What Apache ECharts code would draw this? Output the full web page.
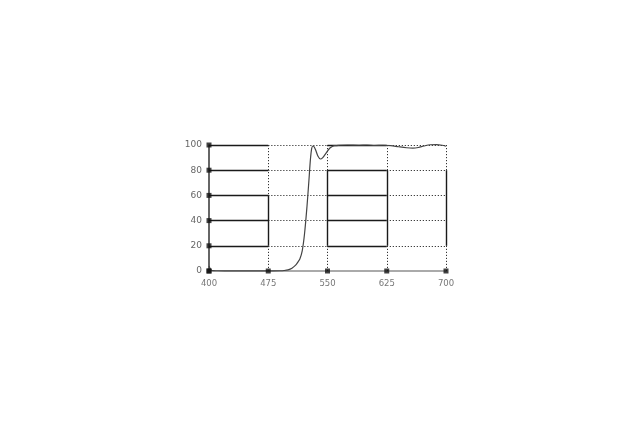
<!DOCTYPE html>
<html>
<head>
<meta charset="utf-8">
<script src="https://cdn.jsdelivr.net/npm/echarts@6/dist/echarts.min.js"></script>
<style>html,body{margin:0;padding:0;background:#fff;}#c{width:640px;height:427px;}</style>
</head>
<body>
<div id="c"></div>
<script>
var wavelength = [400,401,402,403,405,410,420,440,460,480,490,495,500,505,510,513,515,518,521,524,526.5,528.3,530,531.6,533,535,538,541,544,548.6,552.7,556,559,565,575,590,600,610,620,630,640,650,658,665,672,680,688,695,700];
var transmission = [4,2.5,1.2,0.6,0.3,0.2,0.1,0.1,0.1,0.1,0.2,0.4,0.9,2.2,4.8,7.5,9.5,16,30,51,72,88,97.4,99.2,98.6,96,91,88.9,90,94,97.4,98.8,99.5,99.8,100,99.8,100,99.6,99.8,99.5,98.6,97.8,97.5,98,99.2,100.2,100.3,99.8,99];
var xTicks = [400,475,550,625,700];
var yTicks = [0,20,40,60,80,100];
var hLevels = [20,40,60,80,100];
var vLevels = [475,550,625,700];

var solidStyle = {color:'#1a1a1a', width:1.4, type:'solid'};
var dotStyle = {color:'#333', width:1, type:[1.2,1.8]};
var gridSegs = [];
hLevels.forEach(function(y){
  for (var i=0;i<xTicks.length-1;i++){
    gridSegs.push([{coord:[xTicks[i],y], lineStyle:(i%2===0?solidStyle:dotStyle)},{coord:[xTicks[i+1],y]}]);
  }
});
vLevels.forEach(function(x){
  var topEnd = (x===475)?60:80;
  gridSegs.push([{coord:[x,100], lineStyle:dotStyle},{coord:[x,topEnd]}]);
  gridSegs.push([{coord:[x,topEnd], lineStyle:solidStyle},{coord:[x,20]}]);
  gridSegs.push([{coord:[x,20], lineStyle:dotStyle},{coord:[x,0]}]);
});
var tickMarks = xTicks.map(function(x){return [x,0];}).concat(yTicks.map(function(y){return [400,y];}));

var chart = echarts.init(document.getElementById('c'));
chart.setOption({
  animation:false,
  backgroundColor:'#fff',
  grid:{left:209,right:194,top:145,bottom:156,containLabel:false},
  xAxis:{type:'value',min:400,max:700,interval:75,
    axisLine:{show:true,onZero:false,lineStyle:{color:'#aaa',width:2}},
    axisTick:{show:false},splitLine:{show:false},
    axisLabel:{color:'#777',fontSize:8.5,margin:8,fontFamily:'DejaVu Sans'}},
  yAxis:{type:'value',min:0,max:100,interval:20,
    axisLine:{show:true,lineStyle:{color:'#333',width:1.5}},
    axisTick:{show:false},splitLine:{show:false},
    axisLabel:{color:'#666',fontSize:9,margin:7,fontFamily:'DejaVu Sans'}},
  series:[
    {type:'line',data:[],silent:true,
      markLine:{silent:true,symbol:'none',label:{show:false},animation:false,data:gridSegs}},
    {type:'line',data:wavelength.map(function(w,i){return [w,transmission[i]];}),
      smooth:0.3,showSymbol:false,clip:false,z:5,
      lineStyle:{color:'#444',width:1.2}},
    {type:'scatter',data:tickMarks,symbol:'rect',symbolSize:5,clip:false,z:6,
      itemStyle:{color:'#111'}}
  ]
});
</script>
</body>
</html>
